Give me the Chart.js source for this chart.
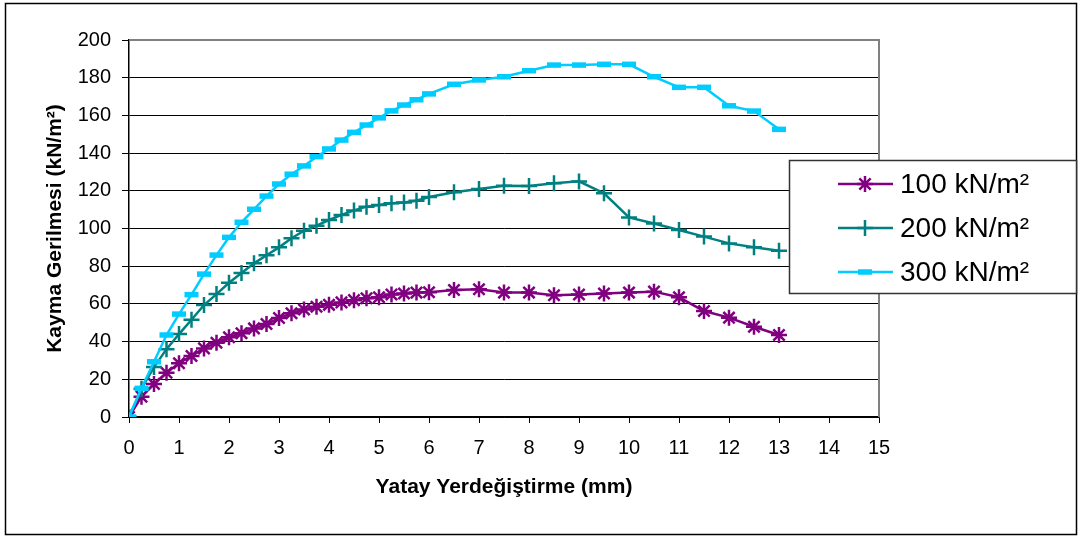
<!DOCTYPE html>
<html>
<head>
<meta charset="utf-8">
<title>Kayma Gerilmesi</title>
<script src="https://cdn.jsdelivr.net/npm/chart.js@4.4.0/dist/chart.umd.min.js"></script>
<style>
    html, body { margin: 0; padding: 0; background: #fff; }
    #chart_wrap { width: 1083px; height: 541px; }
</style>
</head>
<body>
<div id="chart_wrap"><canvas id="shear_chart" width="1083" height="541"></canvas></div>
<script>
// yatay yerdegistirme (mm)
const displacement = [0, 0.25, 0.5, 0.75, 1, 1.25, 1.5, 1.75, 2, 2.25, 2.5, 2.75, 3, 3.25, 3.5, 3.75,
    4, 4.25, 4.5, 4.75, 5, 5.25, 5.5, 5.75, 6, 6.5, 7, 7.5, 8, 8.5, 9, 9.5, 10, 10.5, 11, 11.5, 12, 12.5, 13];

// kayma gerilmesi (kN/m2) for each normal stress
const stress100 = [0, 10.8, 17.5, 23.5, 28.5, 32.4, 36.4, 39.4, 42.3, 44.4, 47, 49.3, 52.5, 55, 57, 58.5,
    59.5, 60.8, 62, 63, 63.5, 65, 65.5, 66, 66.2, 67.4, 67.8, 66, 66, 64.6, 65, 65.5, 66, 66.5, 63.5, 56.2, 52.7, 47.9, 43.5];
const stress200 = [0, 15, 26.5, 36, 44, 51.6, 59.4, 65.2, 71.2, 76.4, 81.5, 85.8, 90, 94.8, 98.8, 101.5,
    104.5, 107.2, 109.6, 111.6, 112.5, 113.4, 113.8, 114.7, 116.7, 119.2, 121, 122.7, 122.5, 124, 125, 118.7, 105.9, 102.7, 99.2, 95.7, 92.1, 90, 88.2];
const stress300 = [0, 15.2, 29.3, 43.5, 54.6, 64.9, 75.8, 85.9, 95.3, 103.3, 110.2, 117.2, 123.6, 128.8, 133.2, 138.1,
    142.2, 146.9, 151, 154.9, 158.7, 162.4, 165.5, 168.3, 171.4, 176.5, 178.8, 180.5, 183.7, 186.7, 186.7, 187.1, 187.1, 180.5, 174.9, 174.9, 165.1, 162.3, 152.6];

const seriesLabels = ['100 kN/m²', '200 kN/m²', '300 kN/m²'];

const FONT = 'Liberation Sans, Arial, sans-serif';

function toPoints(ys) {
    return ys.map((y, i) => ({ x: displacement[i], y: y }));
}

// white page + outer frame, gray top/right edge of the plot, legend box
const framePlugin = {
    id: 'frame',
    beforeDraw(chart) {
        const ctx = chart.ctx;
        ctx.save();
        ctx.fillStyle = '#fff';
        ctx.fillRect(0, 0, chart.width, chart.height);
        ctx.strokeStyle = '#000';
        ctx.lineWidth = 1.5;
        ctx.strokeRect(5.5, 3.5, 1071, 531);
        ctx.restore();
    },
    beforeDatasetsDraw(chart) {
        const a = chart.chartArea;
        const ctx = chart.ctx;
        ctx.save();
        ctx.strokeStyle = '#808080';
        ctx.lineWidth = 2;
        ctx.beginPath();
        ctx.moveTo(a.left, a.top);
        ctx.lineTo(a.right, a.top);
        ctx.lineTo(a.right, a.bottom);
        ctx.stroke();
        ctx.restore();
    },
    afterDraw(chart) {
        const ctx = chart.ctx;
        ctx.save();
        ctx.fillStyle = '#fff';
        ctx.fillRect(789.5, 160.5, 287, 133);
        ctx.strokeStyle = '#333';
        ctx.lineWidth = 1.5;
        ctx.strokeRect(789.5, 160.5, 287, 133);

        ctx.font = '28px ' + FONT;
        ctx.textBaseline = 'middle';
        ctx.textAlign = 'left';
        chart.data.datasets.forEach((ds, i) => {
            const y = 184 + i * 44;
            ctx.strokeStyle = ds.borderColor;
            ctx.lineWidth = ds.borderWidth;
            ctx.beginPath();
            ctx.moveTo(838, y);
            ctx.lineTo(893, y);
            ctx.stroke();
            ctx.lineWidth = ds.pointBorderWidth;
            Chart.helpers.drawPoint(ctx, {
                pointStyle: ds.pointStyle,
                radius: ds.pointRadius,
                rotation: 0,
                borderWidth: ds.pointBorderWidth
            }, 865, y);
            ctx.fillStyle = '#000';
            ctx.fillText(ds.label, 900, y + 1);
        });
        ctx.restore();
    }
};

const ctx = document.getElementById('shear_chart');

new Chart(ctx, {
    type: 'line',
    data: {
        datasets: [{
            label: seriesLabels[0],
            data: toPoints(stress100),
            borderColor: '#800080',
            backgroundColor: '#800080',
            borderWidth: 2.5,
            pointStyle: 'star',
            pointRadius: 8,
            pointBorderWidth: 2.5,
            order: 2
        }, {
            label: seriesLabels[1],
            data: toPoints(stress200),
            borderColor: '#008080',
            backgroundColor: '#008080',
            borderWidth: 2.5,
            pointStyle: 'cross',
            pointRadius: 8,
            pointBorderWidth: 2.5,
            order: 1
        }, {
            label: seriesLabels[2],
            data: toPoints(stress300),
            borderColor: '#00CCFF',
            backgroundColor: '#00CCFF',
            borderWidth: 2.5,
            pointStyle: 'line',
            pointRadius: 7,
            pointBorderWidth: 5.5,
            order: 0
        }]
    },
    options: {
        responsive: false,
        devicePixelRatio: 1,
        animation: false,
        layout: { padding: { left: 0, top: 40, right: 204, bottom: 0 } },
        elements: { line: { tension: 0, fill: false } },
        plugins: {
            legend: { display: false },
            tooltip: { enabled: false }
        },
        scales: {
            x: {
                type: 'linear',
                min: 0,
                max: 15,
                afterFit(scale) { scale.height = 124; },
                ticks: { stepSize: 1, color: '#000', padding: 13, font: { family: FONT, size: 20 } },
                grid: { drawOnChartArea: false, drawTicks: true, tickLength: 6, color: '#000', lineWidth: 1 },
                border: { display: true, color: '#000', width: 1.5 },
                title: {
                    display: true,
                    text: 'Yatay Yerdeğiştirme (mm)',
                    color: '#000',
                    font: { family: FONT, size: 21, weight: 'bold', lineHeight: 1.2 },
                    padding: { top: 0, bottom: 41 }
                }
            },
            y: {
                min: 0,
                max: 200,
                afterFit(scale) { scale.width = 129; },
                ticks: { stepSize: 20, color: '#000', padding: 11, font: { family: FONT, size: 20 } },
                grid: { drawOnChartArea: true, drawTicks: true, tickLength: 7, color: '#000', lineWidth: 1 },
                border: { display: true, color: '#000', width: 1.5 },
                title: {
                    display: true,
                    text: 'Kayma Gerilmesi (kN/m²)',
                    color: '#000',
                    font: { family: FONT, size: 21, weight: 'bold', lineHeight: 1.2 },
                    padding: { top: 43, bottom: 0 }
                }
            }
        }
    },
    plugins: [framePlugin]
});
</script>
</body>
</html>
